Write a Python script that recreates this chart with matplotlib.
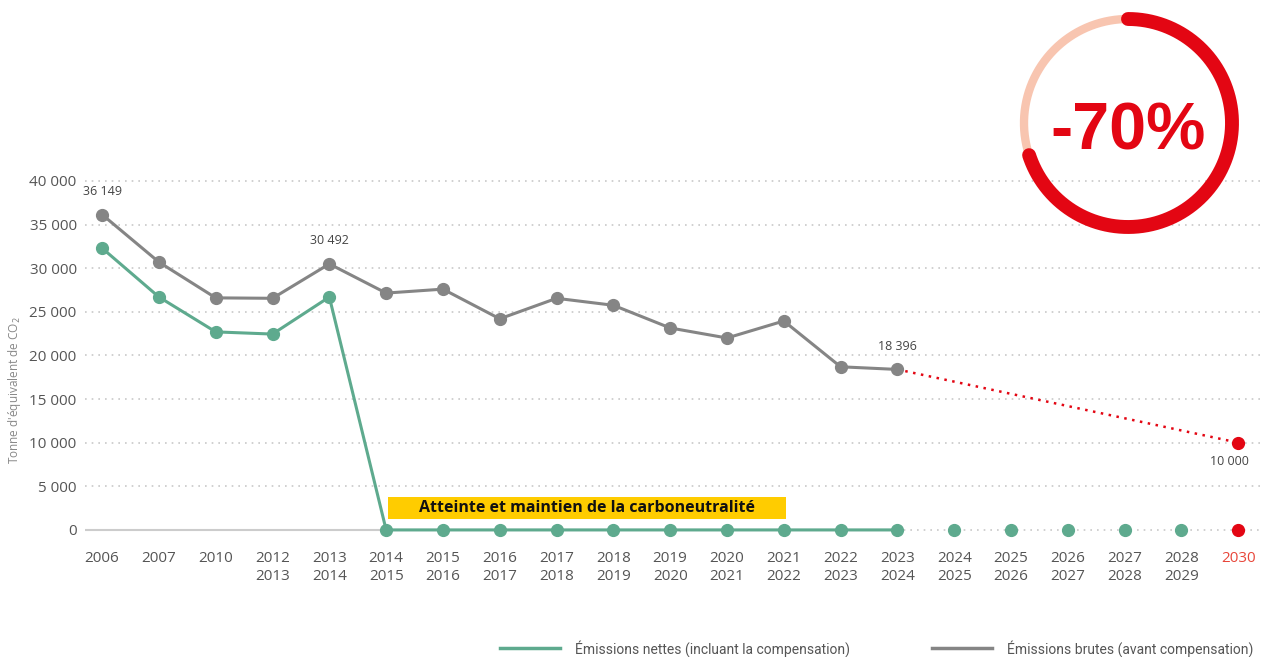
import numpy as np
import matplotlib
matplotlib.use("Agg")
from matplotlib import pyplot as plt
from matplotlib.lines import Line2D
from matplotlib.patches import Rectangle
from matplotlib.ticker import FuncFormatter

plt.rcParams['font.family'] = ['Open Sans', 'DejaVu Sans']

# data
categories = ['2006', '2007', '2010', '2012\n2013', '2013\n2014', '2014\n2015',
              '2015\n2016', '2016\n2017', '2017\n2018', '2018\n2019', '2019\n2020',
              '2020\n2021', '2021\n2022', '2022\n2023', '2023\n2024', '2024\n2025',
              '2025\n2026', '2026\n2027', '2027\n2028', '2028\n2029', '2030']
gross = [36149, 30700, 26600, 26550, 30492, 27150, 27600, 24200, 26550, 25750,
         23150, 22000, 23950, 18700, 18396]
net = [32300, 26700, 22700, 22450, 26700, 0, 0, 0, 0, 0, 0, 0, 0, 0, 0]
net_future = [0, 0, 0, 0, 0]
target_2030 = 10000
net_2030 = 0
labels = {0: '36 149', 4: '30 492', 14: '18 396'}
reduction = 0.70

GREEN = '#5eaa8e'
GRAY = '#858585'
RED = '#e30613'
PINK = '#f8c5b0'
YELLOW = '#ffcc00'
TXT = '#555555'

fig = plt.figure(figsize=(12.62, 6.57), dpi=100)
ax = fig.add_axes([0.0674, 0.1735, 0.9327, 0.5577])

n = len(categories)
x = np.arange(n)
xg = x[:len(gross)]
xf = x[len(net):len(net) + len(net_future)]
x30 = x[-1]

# grid
for v in range(5000, 40001, 5000):
    ax.axhline(v, color='#c8c8c8', lw=1.2, ls=(0, (1, 3)), zorder=0)
ax.plot([-0.5, xg[-1]], [0, 0], color='#cccccc', lw=1.5, zorder=1)
ax.plot([xg[-1], n], [0, 0], color='#c8c8c8', lw=1.2, ls=(0, (1, 3)), zorder=0)

# projection to 2030
ax.plot([xg[-1], x30], [gross[-1], target_2030], color=RED, lw=1.8,
        ls=(0, (1, 2.2)), zorder=2)

ax.plot(xg, gross, color=GRAY, lw=2.2, marker='o', ms=8.5, zorder=3)
ax.plot(xg, net, color=GREEN, lw=2.2, marker='o', ms=8.5, zorder=4, clip_on=False)
ax.plot(xf, net_future, ls='none', color=GREEN, marker='o', ms=8.5, zorder=4, clip_on=False)
ax.plot([x30, x30], [target_2030, net_2030], ls='none', color=RED, marker='o',
        ms=8.5, zorder=4, clip_on=False)

for i, t in labels.items():
    ax.annotate(t, (i, gross[i]), xytext=(0, 12), textcoords='offset points',
                ha='center', va='bottom', fontsize=9, color='#444444')
ax.annotate('10 000', (x30, target_2030), xytext=(-6, -9), textcoords='offset points',
            ha='center', va='top', fontsize=9, color='#444444')

# carbon neutrality band
ax.add_patch(Rectangle((5.04, 1250), 7.0, 2550, facecolor=YELLOW, edgecolor='none', zorder=3))
ax.text(5.57, 2520, 'Atteinte et maintien de la carboneutralité', fontsize=11.5,
        fontweight='bold', color='#111111', va='center', ha='left', zorder=5)

ax.set_xlim(-0.30, n - 1 + 0.42)
ax.set_ylim(-1500, 40500)
ax.set_xticks(x)
ax.set_xticklabels(categories, fontsize=11, color=TXT, linespacing=1.25)
ax.get_xticklabels()[-1].set_color('#e8463a')
ax.set_yticks(range(0, 40001, 5000))
ax.yaxis.set_major_formatter(FuncFormatter(lambda v, p: f'{int(v):,}'.replace(',', ' ')))
ax.tick_params(axis='y', labelsize=11, labelcolor=TXT, length=0, pad=6)
ax.tick_params(axis='x', length=0, pad=6)
for s in ax.spines.values():
    s.set_visible(False)
ax.set_ylabel('Tonne d\'équivalent de CO$_2$', fontsize=8.5, color='#888888')
ax.yaxis.set_label_coords(-0.053, 0.418)

# -70% ring
ra = fig.add_axes([(1128 - 120) / 1262, 1 - (123 + 120) / 657, 240 / 1262, 240 / 657])
ra.set_xlim(-1.2, 1.2)
ra.set_ylim(-1.2, 1.2)
ra.set_aspect('equal')
ra.axis('off')
r = 1.04
t_all = np.linspace(0, 2 * np.pi, 400)
ra.plot(r * np.cos(t_all), r * np.sin(t_all), color=PINK, lw=6, zorder=1)
t_red = np.linspace(np.pi / 2, np.pi / 2 - 2 * np.pi * reduction, 300)
ra.plot(r * np.cos(t_red), r * np.sin(t_red), color=RED, lw=10, solid_capstyle='round', zorder=2)
ra.text(0, -0.1, f'-{int(reduction * 100)}%', fontsize=48, fontweight='bold', color=RED,
        ha='center', va='center', family=['Liberation Sans', 'DejaVu Sans'])

# legend
handles = [Line2D([], [], color=GREEN, lw=2.5), Line2D([], [], color=GRAY, lw=2.5)]
fig.legend(handles, ['Émissions nettes (incluant la compensation)',
                     'Émissions brutes (avant compensation)'],
           loc='lower right', bbox_to_anchor=(1.0, -0.012), ncol=2, frameon=False,
           borderaxespad=0.2, handlelength=4.3, handletextpad=1.1, columnspacing=5.9,
           prop={'family': ['Liberation Sans Narrow', 'Roboto', 'DejaVu Sans'], 'size': 10},
           labelcolor='#555555')

plt.savefig('out.png', dpi=100)
